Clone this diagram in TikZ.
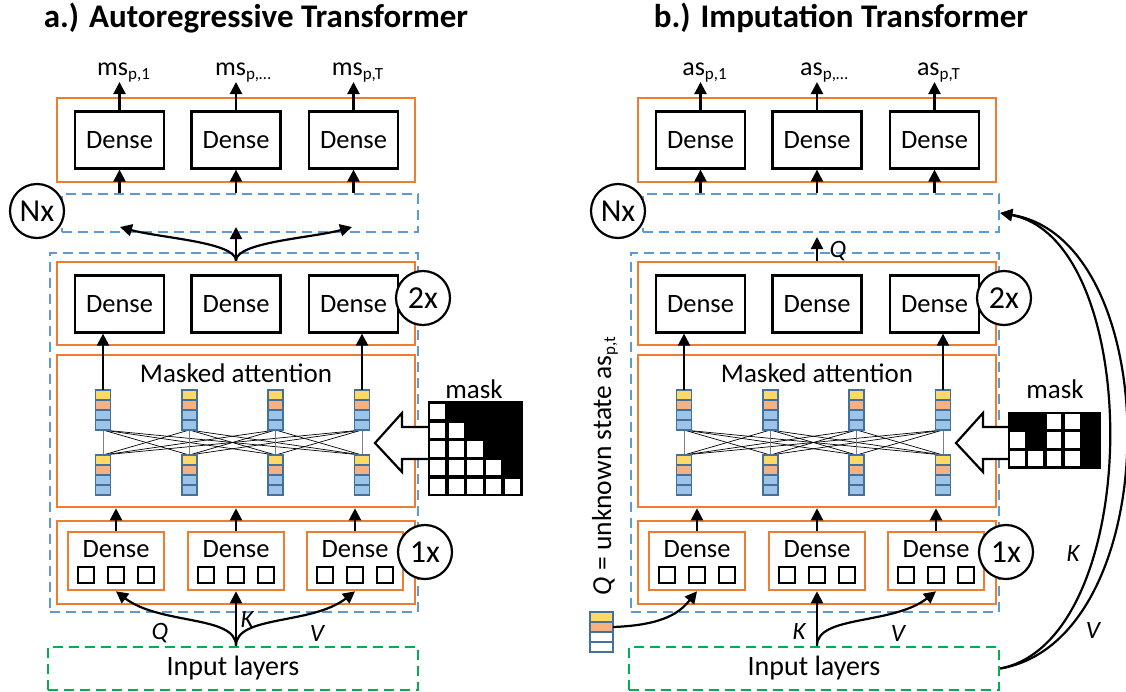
\documentclass[tikz,border=0pt]{standalone}
\usepackage{fontspec}
\setmainfont{Carlito}
\usetikzlibrary{arrows.meta,calc}
\definecolor{orng}{HTML}{ED7D31}
\definecolor{bdsh}{HTML}{5B9BD5}
\definecolor{gdsh}{HTML}{00B050}
\definecolor{vyel}{HTML}{FFD966}
\definecolor{vsal}{HTML}{F4B183}
\definecolor{vblu}{HTML}{9DC3E6}
\definecolor{vedg}{HTML}{41719C}
\newcommand\fs[1]{\fontsize{#1}{#1}\selectfont}
\newcommand\sbs[1]{\raisebox{-4pt}{\fs{17}#1}}
\tikzset{
  obox/.style={draw=orng,line width=2.6pt,inner sep=0pt},
  dbox/.style={draw=black,line width=2.2pt,inner sep=0pt,minimum width=89pt,minimum height=57pt,font=\fs{26.5}},
  bdbox/.style={draw=bdsh,line width=2.6pt,dash pattern=on 10pt off 6pt,inner sep=0pt},
  gdbox/.style={draw=gdsh,line width=2.6pt,dash pattern=on 10pt off 6pt,inner sep=0pt,font=\fs{28}},
  rep/.style={circle,draw=black,line width=2.2pt,fill=white,minimum size=54pt,inner sep=0pt,font=\fs{32}},
  arw/.style={line width=2.2pt,-{Triangle[length=12pt,width=12pt]}},
  sqr/.style={draw=black,line width=2.2pt,minimum size=16pt,inner sep=0pt},
  txt/.style={inner sep=0pt,font=\fs{26.5}},
  qkv/.style={inner sep=0pt,font=\fs{25}\itshape},
  conn/.style={line width=0.7pt},
  vcell/.style={draw=vedg,line width=1.6pt},
  vec/.style={inner sep=0pt,minimum width=15pt,minimum height=40pt},
  hollow/.style={draw=black,line width=2.2pt,fill=white,line join=miter},
  ttl/.style={font=\fs{33}\bfseries,inner sep=0pt},
  outl/.style={inner sep=0pt,font=\fs{26}},
  maskbox/.style={draw=black,fill=black,inner sep=0pt,line width=0.5pt}
}
% vector: name, cx, top y, width, colour of lower cells
\newcommand\vecn[5]{%
  \foreach \c [count=\i from 0] in {vyel,vsal,#5,#5}
    \draw[vcell,fill=\c] ({#2-#4/2},{#3+\i*10}) rectangle ++(#4,10);
  \node[vec,minimum width=#4pt] (#1) at (#2,#3+20) {};
}
% panel: prefix, x shift, output letter
\newcommand\panel[3]{%
\begin{scope}[xshift=#2pt]
  \node[obox,minimum width=358pt,minimum height=84pt] (#1-out) at (236,140) {};
  \foreach \k/\xx in {1/119.5,2/236,3/353.5}{
    \node[dbox] (#1-o\k) at (\xx,140) {Dense};
    \node[dbox] (#1-d\k) at (\xx,304) {Dense};
  }
  \node[outl,anchor=south] (#1-ol1) at (123.5,82) {#3\sbs{p,1}};
  \node[outl,anchor=south] (#1-ol2) at (243,82) {#3\sbs{p,…}};
  \node[outl,anchor=south] (#1-ol3) at (357.5,82) {#3\sbs{p,T}};
  \foreach \k in {1,2,3}{
    \draw[arw] (#1-o\k.north) -- (#1-o\k.north |- #1-ol\k.south);
  }
  \node[bdbox,minimum width=356pt,minimum height=38pt] (#1-nx) at (240,213) {};
  \node[bdbox,minimum width=368pt,minimum height=359pt] (#1-blk) at (234,432.5) {};
  \node[obox,minimum width=358pt,minimum height=83pt] (#1-ff) at (236,303.5) {};
  \node[obox,minimum width=358pt,minimum height=152pt] (#1-att) at (236,431) {};
  \node[txt,font=\fs{27}] (#1-attl) at (236,373) {Masked attention};
  \node[obox,minimum width=358pt,minimum height=83pt] (#1-emb) at (236,562.5) {};
  \foreach \k/\xx in {1/116,2/236,3/355}{
    \node[obox,minimum width=96pt,minimum height=58pt] (#1-i\k) at (\xx,561) {};
    \node[txt] (#1-it\k) at (\xx,549) {Dense};
    \node[sqr] (#1-s\k a) at (\xx-30,575) {};
    \node[sqr] (#1-s\k b) at (\xx,575) {};
    \node[sqr] (#1-s\k c) at (\xx+30,575) {};
  }
  \node[gdbox,minimum width=370pt,minimum height=43pt] (#1-in) at (233,668.5) {Input layers};
  \foreach \i/\j in {1/2,1/3,1/4,2/1,2/3,2/4,3/1,3/2,3/4,4/1,4/2,4/3}{
    \draw[conn] ({103+(\i-1)*86.3},430) -- ({103+(\j-1)*86.3},455);
  }
  \foreach \i in {0,1,2,3}{
    \draw[conn,gray] ({103+\i*86.3},430) -- ({103+\i*86.3},455);
  }
  \foreach \k/\xx in {1/103,2/189.3,3/275.6,4/362}{
    \vecn{#1-t\k}{\xx}{390}{15}{vblu}
    \vecn{#1-b\k}{\xx}{455}{15}{vblu}
  }
  \foreach \k in {1,2,3}{
    \draw[arw] (#1-o\k |- #1-nx.north) -- (#1-o\k.south);
    \draw[arw] (#1-i\k.north) -- (#1-i\k.north |- #1-att.south);
  }
  \draw[arw] (#1-t1.north) -- (#1-t1.north |- #1-d1.south);
  \draw[arw] (#1-t4.north) -- (#1-t4.north |- #1-d3.south);
  \node[rep] (#1-cn) at (37,211) {Nx};
  \node[rep] (#1-c2) at (423,298) {2x};
  \node[rep] (#1-c1) at (425,552) {1x};
  \draw[hollow] (430,427) -- (402,427) -- (402,413) -- (375,443) -- (402,472) -- (402,459) -- (430,459);
  \node[txt,font=\fs{27}] (#1-ml) at (474,389) {mask};
\end{scope}}
\begin{document}
\begin{tikzpicture}[x=1pt,y=-1pt]
\fill[white] (0,0) rectangle (1126,691);
\useasboundingbox (0,0) rectangle (1126,691);
\node[ttl] (ta) at (256,18) {a.) Autoregressive Transformer};
\node[ttl] (tb) at (841,18) {b.) Imputation Transformer};
\panel{a}{0}{ms}
\panel{b}{581}{as}
% ---- panel a specifics
\coordinate (a-n1) at (120,227);
\coordinate (a-n2) at (236,227);
\coordinate (a-n3) at (352,227);
\draw[arw] (a-ff.north) .. controls (236,242) and (160,238) .. (a-n1);
\draw[arw] (a-ff.north) -- (a-n2);
\draw[arw] (a-ff.north) .. controls (236,242) and (312,238) .. (a-n3);
\coordinate (a-q) at (a-i2 |- a-in.north);
\draw[arw] (a-q) .. controls (236,615) and (160,625) .. (a-i1.south);
\draw[arw] (a-q) -- (a-i2.south);
\draw[arw] (a-q) .. controls (236,615) and (312,625) .. (a-i3.south);
\node[qkv] (a-lq) at (160,633) {Q};
\node[qkv] (a-lk) at (247,619) {K};
\node[qkv] (a-lv) at (317,633) {V};
\node[maskbox,minimum width=94pt,minimum height=94pt] (a-mk) at (475,448.5) {};
\foreach \r in {0,...,4}{
  \foreach \c in {0,...,\r}{
    \fill[white] ({428+\c*18.8+1.8},{402+\r*18.8+1.8}) rectangle ++(15.2,15.2);
  }
}
% ---- panel b specifics
\coordinate (b-nq) at (817,237);
\draw[arw] (b-ff.north) -- (b-nq);
\node[qkv] (b-lq) at (838,251) {Q};
\vecn{b-qv}{601.5}{612}{23}{white}
\draw[arw] ($(b-qv.east)+(0,-5)$) .. controls (665,625) and (680,612) .. (b-i1.south);
\node[txt,font=\fs{27.5},rotate=90] (b-qlab) at (605,466) {\textit{Q} = unknown state as\sbs{p,t}};
\coordinate (b-k) at (b-i2 |- b-in.north);
\draw[arw] (b-k) -- (b-i2.south);
\draw[arw] (b-k) .. controls (817,615) and (893,625) .. (b-i3.south);
\node[qkv] (b-lk) at (799,631) {K};
\node[qkv] (b-lv) at (898,633) {V};
\draw[arw] (b-in.east) .. controls (1145,640) and (1145,240) .. (b-nx.east);
\draw[arw] (b-in.east) .. controls (1168,640) and (1168,240) .. (b-nx.east);
\node[qkv] (b-lk2) at (1073,553) {K};
\node[qkv] (b-lv2) at (1093,630) {V};
\node[maskbox,minimum width=92pt,minimum height=56pt] (b-mk) at (1054,440) {};
\foreach \r/\c in {0/2,0/3,1/0,1/2,1/3,2/0,2/1,2/2,2/3}{
  \fill[white] ({1008+\c*18.4+1.8},{412+\r*18.67+1.8}) rectangle ++(14.8,15.07);
}
\end{tikzpicture}
\end{document}
